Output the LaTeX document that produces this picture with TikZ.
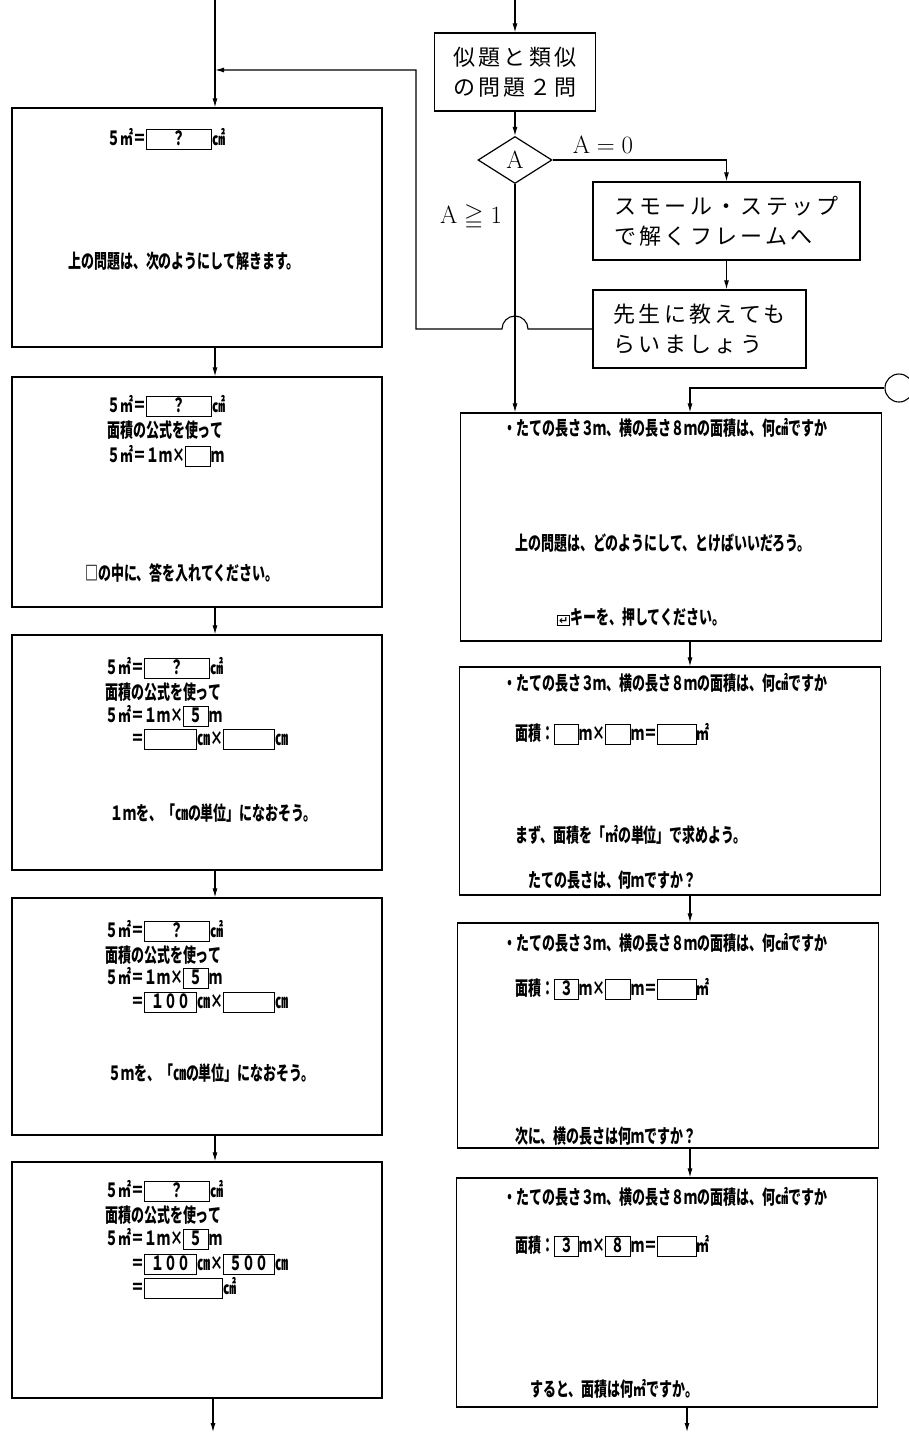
\documentclass[tikz,border=0pt]{standalone}
\usepackage{amssymb}
\usepackage{fontspec}
\newfontfamily\scrfont[FakeStretch=0.665]{Noto Sans CJK JP}
\newfontfamily\flowfont[LetterSpace=15]{Noto Sans CJK JP}
\newfontfamily\symfont{DejaVu Sans}
\usetikzlibrary{positioning, arrows.meta, shapes.geometric, calc}

% answer field of the screen
\newcommand\ans[2]{{\setlength\fboxsep{0pt}\setlength\fboxrule{1pt}%
  \fbox{\makebox[#1]{\rule[-4pt]{0pt}{19pt}#2}}}}
\newcommand\enterkey{{\setlength\fboxsep{1pt}\setlength\fboxrule{1pt}%
  \fbox{\symfont\fontsize{11}{11}\selectfont ↵}}}
\newcommand\qtitle{・たての長さ３ｍ、横の長さ８ｍの面積は、何㎠ですか}
\newcommand\sqline{５㎡＝\ans{64pt}{？}㎠}

\tikzset{
  screen/.style={draw, line width=1.3pt, minimum width=370pt},
  wscreen/.style={draw, line width=1.3pt, minimum width=421pt},
  flowbox/.style={draw, line width=1.2pt, align=left, inner sep=0pt,
    font=\flowfont\fontsize{22}{30}\selectfont},
  scr/.style={anchor=base west, inner sep=0pt,
    font=\scrfont\bfseries\fontsize{19.5}{19.5}\selectfont},
  flow/.style={line width=1.1pt, -{Latex[length=9pt,width=5pt]}},
}

\begin{document}
\begin{tikzpicture}[x=1pt,y=-1pt]
    \path[fill=white] (0,0) rectangle (909,1435);
    \useasboundingbox (0,0) rectangle (909,1435);

    % Branch at the top right
    \node[flowbox, align=center, minimum width=161pt, minimum height=78pt] (F1) at (515,72)
        {似題と類似\\の問題２問};
    \node[diamond, draw, line width=1.2pt, aspect=1.6, inner sep=0pt,
        minimum width=74pt, minimum height=47pt, font=\Huge] (D) at (515,160) {A};
    \node[flowbox, minimum width=267pt, minimum height=78pt] (F2) at (726.5,221)
        {スモール・ステップ\\で解くフレームへ};
    \node[flowbox, minimum width=213pt, minimum height=78pt] (F3) at (699.5,329)
        {先生に教えても\\らいましょう};
    \node[font=\Huge] (eq0) at (603,145) {$\mathrm{A}=0$};
    \node[font=\Huge] (ge1) at (471,217) {$\mathrm{A}\geqq 1$};

    % Screens, left column
    \node[screen, minimum height=239pt] (L1) at (197,227.5) {};
    \node[screen, minimum height=230pt] (L2) at (197,492) {};
    \node[screen, minimum height=235pt] (L3) at (197,752.5) {};
    \node[screen, minimum height=237pt] (L4) at (197,1016.5) {};
    \node[screen, minimum height=236pt] (L5) at (197,1280) {};

    % Screens, right column
    \node[wscreen, minimum height=228pt] (R1) at (671,527) {};
    \node[wscreen, minimum height=228pt] (R2) at (670,781) {};
    \node[wscreen, minimum height=225pt] (R3) at (668,1035.5) {};
    \node[wscreen, minimum height=229pt] (R4) at (667,1292.5) {};

    % Connector ends
    \coordinate (lx) at (215,0);
    \coordinate (rx) at (690,0);
    \coordinate (inR) at (515,0);
    \coordinate (turn) at (416,70);
    \coordinate (outL) at (213,1432);
    \coordinate (outR) at (687,1432);
    \node[circle, draw, line width=1.1pt, minimum size=28pt, inner sep=0pt] (C) at (899,388) {};

    % Flow
    \draw[flow] (inR) -- (F1.north);
    \draw[flow] (F1.south) -- (D.north);
    \draw[flow] (D.east) -| (F2.north);
    \draw[flow] (F2.south) -- (F2.south |- F3.north);
    \draw[flow] (D.south) -- (D.south |- R1.north);
    \draw[flow] (F3.west) -- ($(D.south |- F3.west)+(13,0)$)
        arc[start angle=0, end angle=180, radius=13pt]
        -- (turn |- F3.west) -- (turn) -- (turn -| lx);
    \draw[flow] (C.west) -| (rx |- R1.north);
    \draw[flow] (lx) -- (lx |- L1.north);
    \draw[flow] (L1.south -| lx) -- (L2.north -| lx);
    \draw[flow] (L2.south -| lx) -- (L3.north -| lx);
    \draw[flow] (L3.south -| lx) -- (L4.north -| lx);
    \draw[flow] (L4.south -| lx) -- (L5.north -| lx);
    \draw[flow] (L5.south -| outL) -- (outL);
    \draw[flow] (R1.south -| rx) -- (R2.north -| rx);
    \draw[flow] (R2.south -| rx) -- (R3.north -| rx);
    \draw[flow] (R3.south -| rx) -- (R4.north -| rx);
    \draw[flow] (R4.south -| outR) -- (outR);

    % Left screen texts
    \node[scr] (l1a) at (107,145) {\sqline};
    \node[scr] (l1b) at (68,268) {上の問題は、次のようにして解きます。};

    \node[scr] (l2a) at (107,412) {\sqline};
    \node[scr] (l2b) at (107,437) {面積の公式を使って};
    \node[scr] (l2c) at (107,462) {５㎡＝１ｍ×\ans{24pt}{}ｍ};
    \node[scr] (l2d) at (85,580) {□の中に、答を入れてください。};

    \node[scr] (l3a) at (105,674) {\sqline};
    \node[scr] (l3b) at (105,699) {面積の公式を使って};
    \node[scr] (l3c) at (105,722) {５㎡＝１ｍ×\ans{24pt}{５}ｍ};
    \node[scr] (l3d) at (131,745) {＝\ans{51pt}{}㎝×\ans{50pt}{}㎝};
    \node[scr] (l3e) at (110,820) {１ｍを、「㎝の単位」になおそう。};

    \node[scr] (l4a) at (105,937) {\sqline};
    \node[scr] (l4b) at (105,962) {面積の公式を使って};
    \node[scr] (l4c) at (105,984) {５㎡＝１ｍ×\ans{24pt}{５}ｍ};
    \node[scr] (l4d) at (131,1008) {＝\ans{51pt}{１００}㎝×\ans{50pt}{}㎝};
    \node[scr] (l4e) at (108,1080) {５ｍを、「㎝の単位」になおそう。};

    \node[scr] (l5a) at (105,1197) {\sqline};
    \node[scr] (l5b) at (105,1222) {面積の公式を使って};
    \node[scr] (l5c) at (105,1245) {５㎡＝１ｍ×\ans{24pt}{５}ｍ};
    \node[scr] (l5d) at (131,1270) {＝\ans{51pt}{１００}㎝×\ans{50pt}{５００}㎝};
    \node[scr] (l5e) at (131,1294) {＝\ans{77pt}{}㎠};

    % Right screen texts
    \node[scr] (r1a) at (503,435) {\qtitle};
    \node[scr] (r1b) at (515,550) {上の問題は、どのようにして、とけばいいだろう。};
    \node[scr] (r1c) at (557,624) {\enterkey キーを、押してください。};

    \node[scr] (r2a) at (503,690) {\qtitle};
    \node[scr] (r2b) at (515,740) {面積：\ans{23pt}{}ｍ×\ans{24pt}{}ｍ＝\ans{38pt}{}㎡};
    \node[scr] (r2c) at (515,842) {まず、面積を「㎡の単位」で求めよう。};
    \node[scr] (r2d) at (528,887) {たての長さは、何ｍですか？};

    \node[scr] (r3a) at (503,950) {\qtitle};
    \node[scr] (r3b) at (515,995) {面積：\ans{23pt}{３}ｍ×\ans{24pt}{}ｍ＝\ans{38pt}{}㎡};
    \node[scr] (r3c) at (515,1143) {次に、横の長さは何ｍですか？};

    \node[scr] (r4a) at (503,1204) {\qtitle};
    \node[scr] (r4b) at (515,1252) {面積：\ans{23pt}{３}ｍ×\ans{24pt}{８}ｍ＝\ans{38pt}{}㎡};
    \node[scr] (r4c) at (530,1396) {すると、面積は何㎡ですか。};
\end{tikzpicture}
\end{document}
